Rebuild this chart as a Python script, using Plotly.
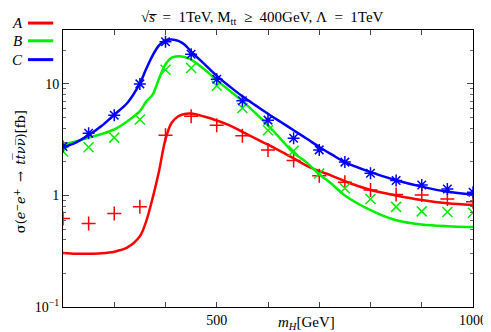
import plotly.graph_objects as go

# sample points (markers)
m_pts = [200, 250, 300, 350, 400, 450, 500, 550, 600, 650, 700, 750, 800, 850, 900, 950, 1000]
a_pts = [0.62, 0.56, 0.69, 0.79, 3.47, 5.13, 4.25, 3.42, 2.56, 2.06, 1.50, 1.31, 1.12, 1.02, 1.01, 0.93, 0.88]
b_pts = [2.48, 2.70, 3.30, 4.80, 13.4, 13.9, 9.64, 6.08, 3.84, 2.52, 1.57, 1.16, 0.93, 0.79, 0.72, 0.71, 0.70]
c_pts = [2.75, 3.61, 5.24, 10.0, 23.9, 18.4, 11.0, 7.07, 4.73, 3.26, 2.56, 1.99, 1.58, 1.36, 1.24, 1.14, 1.07]

# smooth curves
m_curve = [200, 225, 250, 275, 300, 325, 350, 362, 375, 387, 400, 412, 425, 437, 450, 475,
           500, 525, 550, 575, 600, 625, 650, 675, 700, 725, 750, 800, 850, 900, 950, 1000]
a_curve = [0.305, 0.30, 0.30, 0.303, 0.313, 0.34, 0.43, 0.58, 0.95, 1.62, 3.2, 4.48, 5.13, 5.38,
           5.42, 5.1, 4.7, 4.25, 3.72, 3.25, 2.85, 2.48, 2.15, 1.85, 1.65, 1.5, 1.34, 1.12, 1.0,
           0.91, 0.85, 0.82]
b_curve = [2.85, 3.05, 3.3, 3.55, 3.9, 4.6, 5.7, 6.9, 8.0, 11.0, 15.0, 17.2, 17.7, 17.4, 16.5,
           13.6, 10.8, 8.7, 7.0, 5.5, 4.24, 3.2, 2.41, 1.98, 1.55, 1.26, 1.0, 0.74, 0.6, 0.55,
           0.53, 0.52]
c_curve = [2.7, 2.98, 3.47, 4.19, 5.3, 6.7, 10.1, 13.5, 18.0, 22.0, 24.6, 25.0, 24.3, 22.5, 19.5,
           15.2, 11.8, 9.5, 7.74, 6.45, 5.4, 4.55, 3.84, 3.24, 2.72, 2.32, 1.99, 1.62, 1.37, 1.2,
           1.08, 1.02]

names = ["A", "B", "C"]
colors = ["#ff0000", "#00ee00", "#0000ff"]
symbols = ["cross-thin-open", "x-thin-open", "asterisk-open"]

fig = go.Figure()
for curve, pts, col, sym in zip([a_curve, b_curve, c_curve], [a_pts, b_pts, c_pts], colors, symbols):
    fig.add_trace(go.Scatter(x=m_curve, y=curve, mode="lines",
                             line=dict(color=col, width=2.5, shape="spline", smoothing=0.9),
                             showlegend=False, hoverinfo="skip"))
    fig.add_trace(go.Scatter(x=m_pts, y=pts, mode="markers",
                             marker=dict(symbol=sym, size=10, color=col, line=dict(color=col, width=1.5)),
                             showlegend=False))

font = dict(family="Liberation Serif, DejaVu Serif, serif", size=14, color="black")
big = dict(font, size=15)

x_ticks = [500, 1000]
x_minor = [300, 400, 600, 700, 800, 900]
y_ticks = [0.1, 1, 10]
y_text = ["10<sup>−1</sup>", "1", "10"]
y_minor = [k * 10 ** e for e in (-1, 0, 1) for k in range(2, 10) if k * 10 ** e < 31]

fig.update_layout(
    width=491, height=332,
    margin=dict(l=55, r=15, t=22, b=29),
    paper_bgcolor="white", plot_bgcolor="white",
    font=font,
    xaxis=dict(range=[200, 1000], tickmode="array", tickvals=x_ticks,
               ticks="inside", ticklen=5, tickcolor="#444", showgrid=False, zeroline=False,
               showline=True, linecolor="black", linewidth=1, mirror="allticks", tickfont=font,
               minor=dict(tickmode="array", tickvals=x_minor, ticks="inside", ticklen=5, tickcolor="#444")),
    yaxis=dict(type="log", range=[-1, 1.483], tickmode="array", tickvals=y_ticks, ticktext=y_text,
               ticks="inside", ticklen=6, tickcolor="#444", showgrid=False, zeroline=False,
               showline=True, linecolor="black", linewidth=1, mirror="allticks", tickfont=font,
               minor=dict(tickmode="array", tickvals=y_minor, ticks="inside", ticklen=3, tickcolor="#666")),
)

sp = "\u2002"
anns = [
    dict(text="√<i>s̅</i>" + sp + "=" + sp + "1TeV, M<sub>tt</sub>" + sp + "≥" + sp + "400GeV, Λ" + sp + "=" + sp + "1TeV",
         x=0.487, y=1.043, xanchor="center", yanchor="middle", font=big),
    dict(text="<i>m</i><sub><i>H</i></sub>[GeV]", x=0.594, y=-0.058, xanchor="center", yanchor="middle", font=big),
    dict(text="σ(<i>e</i><sup>−</sup><i>e</i><sup>+</sup>" + sp + "→" + sp + "<i>tt\u0305νν\u0305</i>)[fb]",
         x=-0.105, y=0.49, xanchor="center", yanchor="middle", textangle=-90,
         font=dict(font, size=13, family="DejaVu Serif, Liberation Serif, serif")),
]
leg_y = [1.025, 0.961, 0.893]
for nm, col, ly in zip(names, colors, leg_y):
    anns.append(dict(text="<i>%s</i>" % nm, x=-0.11, y=ly, xanchor="center", yanchor="middle", font=big))
    fig.add_shape(type="line", xref="paper", yref="paper", x0=-0.0855, x1=-0.0238, y0=ly, y1=ly,
                  line=dict(color=col, width=3))
for a in anns:
    a.update(xref="paper", yref="paper", showarrow=False)
fig.update_layout(annotations=anns)

fig.write_html("out.html")
